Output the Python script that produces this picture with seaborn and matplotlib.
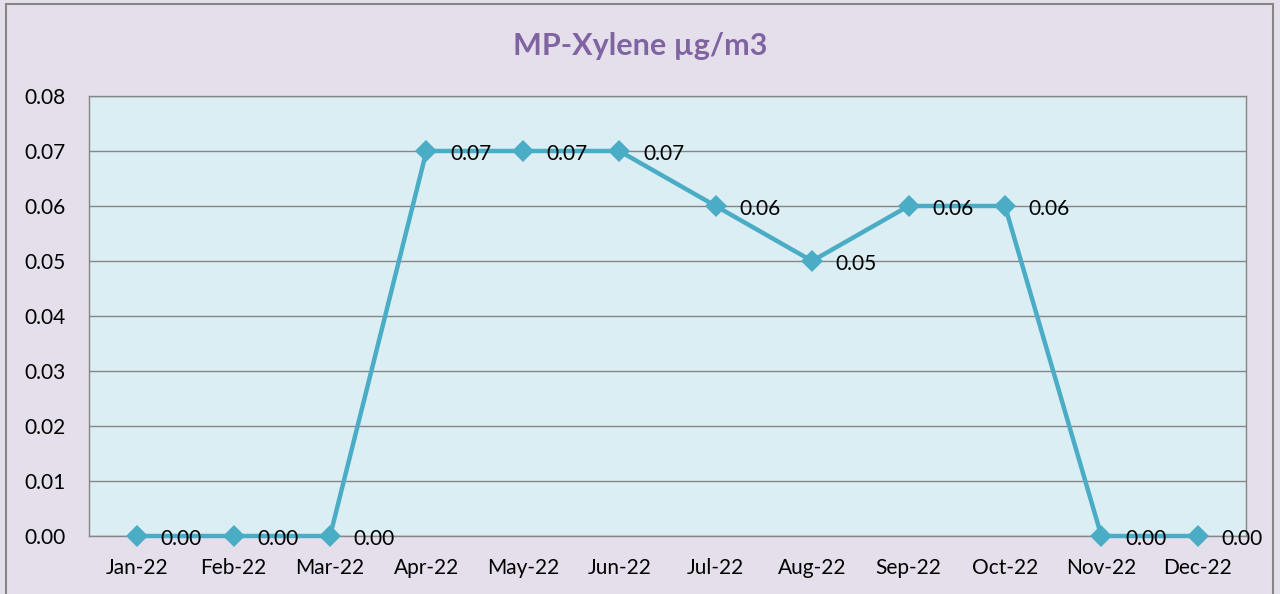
import matplotlib
matplotlib.use("Agg")
import matplotlib.pyplot as plt
import seaborn as sns
import pandas as pd
from matplotlib.patches import Rectangle

months = ["Jan-22", "Feb-22", "Mar-22", "Apr-22", "May-22", "Jun-22",
          "Jul-22", "Aug-22", "Sep-22", "Oct-22", "Nov-22", "Dec-22"]
values = [0.00, 0.00, 0.00, 0.07, 0.07, 0.07, 0.06, 0.05, 0.06, 0.06, 0.00, 0.00]
yticks = [0.00, 0.01, 0.02, 0.03, 0.04, 0.05, 0.06, 0.07, 0.08]
title = "MP-Xylene µg/m3"

sns.set_theme(style="white")
plt.rcParams['font.family'] = ['Lato', 'DejaVu Sans']

df = pd.DataFrame({"month": months, "value": values, "x": range(len(months))})

fig = plt.figure(figsize=(12.8, 5.94), dpi=100, facecolor="#E5DFEC")
ax = fig.add_axes([89/1280, 1-536/594, (1246-89)/1280, (536-96)/594])
ax.set_facecolor("#DAEEF3")

line_color = "#4BACC6"
sns.lineplot(data=df, x="x", y="value", ax=ax, color=line_color, linewidth=3.2,
             marker="D", markersize=11, markeredgewidth=0, zorder=3)
for ln in ax.lines:
    ln.set_clip_on(False)

for xi, v in zip(df["x"], df["value"]):
    ax.annotate(f"{v:.2f}", (xi, v), xytext=(17, -2), textcoords="offset points",
                ha="left", va="center", fontsize=15, color="black", zorder=4)

ax.set_xlim(-0.5, len(months) - 0.5)
ax.set_ylim(0, 0.08)
ax.set_yticks(yticks)
ax.set_yticklabels([f"{t:.2f}" for t in yticks], fontsize=15, color="black")
ax.set_xticks(range(len(months)))
ax.set_xticklabels(months, fontsize=15, color="black")
ax.tick_params(axis="both", length=0)
ax.tick_params(axis="x", pad=16)
ax.tick_params(axis="y", pad=17)
ax.set_xlabel("")
ax.set_ylabel("")
ax.grid(axis="y", color="#868686", linewidth=1)
ax.set_axisbelow(True)
for side in ["left", "bottom", "top", "right"]:
    ax.spines[side].set_visible(True)
    ax.spines[side].set_color("#868686")
    ax.spines[side].set_linewidth(1)

fig.text(640/1280, 1-46/594, title, ha="center", va="center", fontsize=22,
         fontweight="bold", color="#8064A2")

fig.patches.append(Rectangle((6/1280, -0.05), (1273-6)/1280, 1-4/594+0.05,
                             transform=fig.transFigure, fill=False,
                             edgecolor="#868686", linewidth=1.5))

fig.savefig("out.png", dpi=100, facecolor=fig.get_facecolor())
